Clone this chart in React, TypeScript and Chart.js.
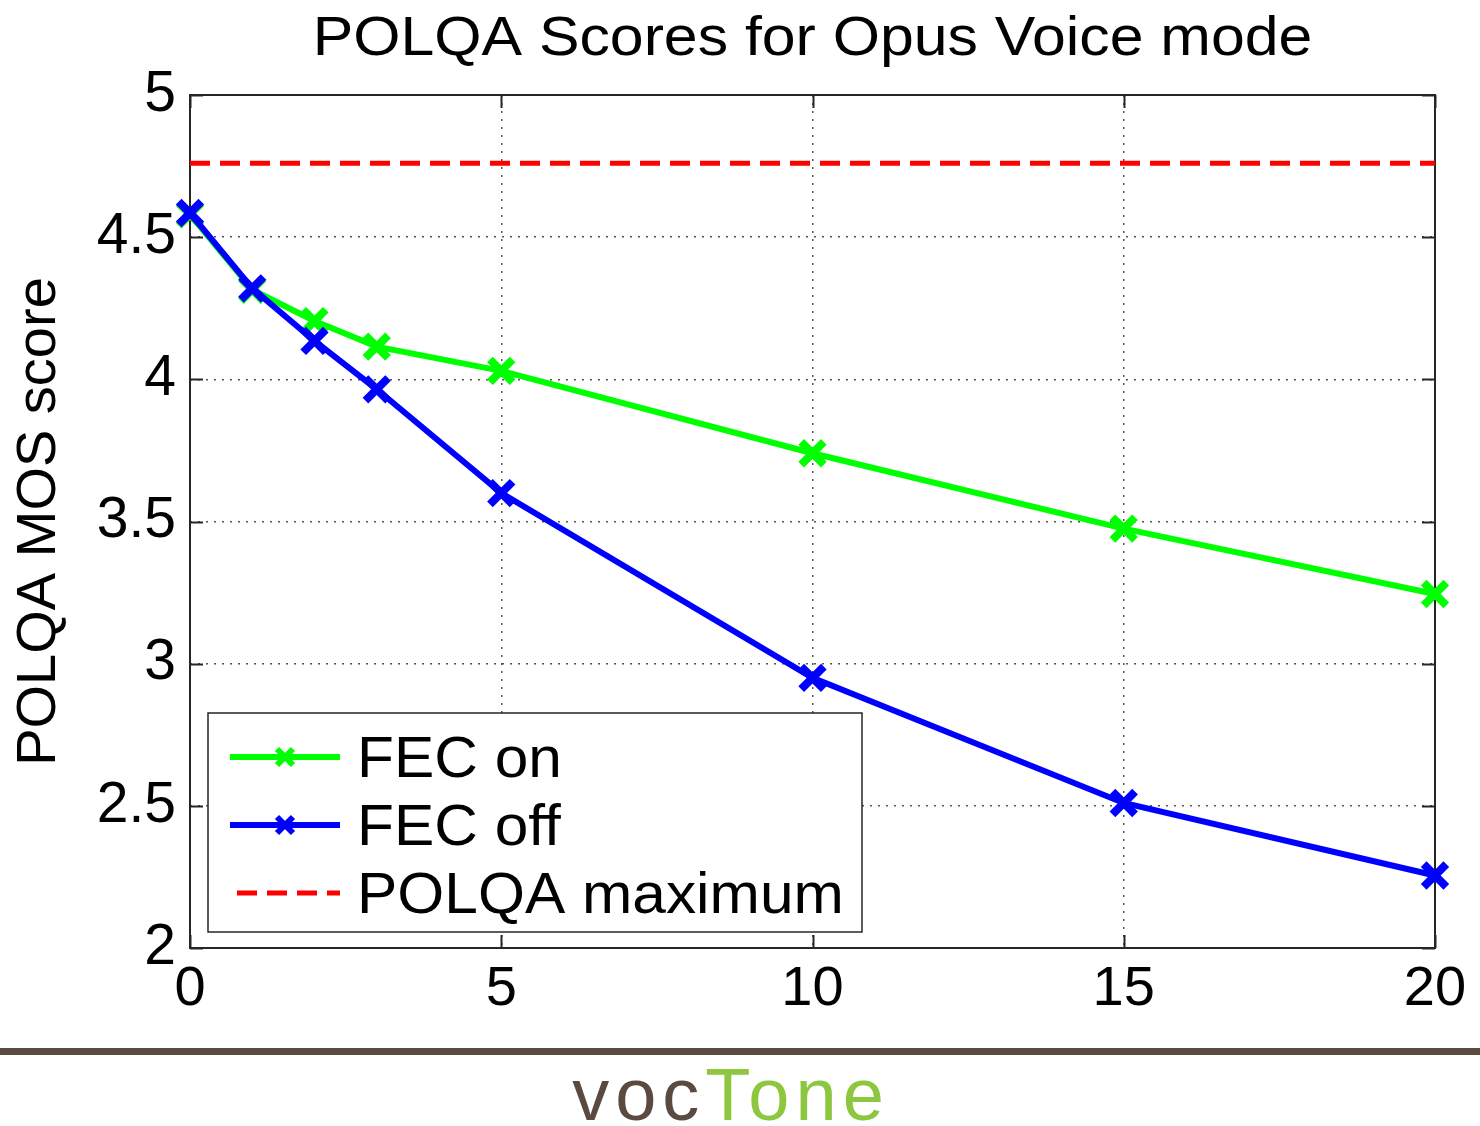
import React, { useEffect, useRef } from "react";
import { Chart, registerables } from "chart.js";

Chart.register(...registerables);

// ---- data ----
const lossPercent = [0, 1, 2, 3, 5, 10, 15, 20];
const fecOnScores = [4.58, 4.315, 4.205, 4.115, 4.03, 3.74, 3.475, 3.245];
const fecOffScores = [4.585, 4.32, 4.135, 3.965, 3.6, 2.95, 2.51, 2.255];
const polqaMaxX = [0, 20];
const polqaMaxY = [4.76, 4.76];
const seriesLabels = ["FEC on", "FEC off", "POLQA maximum"];
const titleText = "POLQA Scores for Opus Voice mode";
const yAxisLabel = "POLQA MOS score";
const brandParts = ["voc", "Tone"];

const FONT = '"Liberation Sans", Arial, Helvetica, sans-serif';
const W = 1480;
const H = 1126;

const decorPlugin = {
  id: "decor",
  beforeDatasetsDraw(chart: any) {
    const { ctx, chartArea: a, scales } = chart;
    ctx.save();
    ctx.strokeStyle = "#262626";
    ctx.lineWidth = 2;
    ctx.setLineDash([]);
    ctx.strokeRect(a.left, a.top, a.right - a.left, a.bottom - a.top);
    const tl = 13;
    ctx.beginPath();
    scales.x.ticks.forEach((t: any) => {
      const px = Math.round(scales.x.getPixelForValue(t.value)) + 0.5;
      ctx.moveTo(px, a.bottom);
      ctx.lineTo(px, a.bottom - tl);
      ctx.moveTo(px, a.top);
      ctx.lineTo(px, a.top + tl);
    });
    scales.y.ticks.forEach((t: any) => {
      const py = Math.round(scales.y.getPixelForValue(t.value)) + 0.5;
      ctx.moveTo(a.left, py);
      ctx.lineTo(a.left + tl, py);
      ctx.moveTo(a.right, py);
      ctx.lineTo(a.right - tl, py);
    });
    ctx.stroke();
    ctx.restore();
  },
  afterDatasetsDraw(chart: any) {
    const { ctx, chartArea: a } = chart;
    const datasets = chart.data.datasets;
    const bx = a.left + 18;
    const by = a.top + 618;
    const bw = 654;
    const bh = 219;
    ctx.save();
    ctx.fillStyle = "#ffffff";
    ctx.fillRect(bx, by, bw, bh);
    ctx.strokeStyle = "#262626";
    ctx.lineWidth = 1.5;
    ctx.strokeRect(bx, by, bw, bh);
    const fs = 57;
    datasets.forEach((ds: any, i: number) => {
      const rowY = by + 44 + i * 68;
      const x0 = bx + 22;
      const x1 = bx + 132;
      ctx.strokeStyle = ds.borderColor;
      ctx.lineWidth = ds.borderWidth;
      ctx.setLineDash(ds.borderDash || []);
      ctx.beginPath();
      ctx.moveTo(x0 + (ds.borderDash ? 7 : 0), rowY);
      ctx.lineTo(x1, rowY);
      ctx.stroke();
      ctx.setLineDash([]);
      if (ds.pointRadius > 0) {
        const cx = (x0 + x1) / 2;
        const r = 8;
        ctx.lineWidth = 6;
        ctx.beginPath();
        ctx.moveTo(cx - r, rowY - r);
        ctx.lineTo(cx + r, rowY + r);
        ctx.moveTo(cx - r, rowY + r);
        ctx.lineTo(cx + r, rowY - r);
        ctx.stroke();
      }
      ctx.fillStyle = "#000";
      ctx.font = `${fs}px ${FONT}`;
      ctx.textAlign = "left";
      ctx.textBaseline = "alphabetic";
      ctx.save();
      ctx.translate(bx + 149, rowY + 0.358 * fs);
      ctx.scale(1.06, 1);
      ctx.fillText(ds.label, 0, 0);
      ctx.restore();
    });
    ctx.restore();
  },
  afterDraw(chart: any) {
    const { ctx, chartArea: a } = chart;
    ctx.save();
    // title
    ctx.fillStyle = "#000";
    ctx.font = `56px ${FONT}`;
    ctx.textAlign = "center";
    ctx.textBaseline = "alphabetic";
    ctx.save();
    ctx.translate((a.left + a.right) / 2, 55);
    ctx.scale(1.085, 1);
    ctx.fillText(titleText, 0, 0);
    ctx.restore();
    // footer rule
    ctx.fillStyle = "#5a4a40";
    ctx.fillRect(0, 1048, W, 7);
    // brand
    ctx.font = `74px ${FONT}`;
    (ctx as any).letterSpacing = "6px";
    ctx.textAlign = "left";
    const w0 = ctx.measureText(brandParts[0]).width;
    const w1 = ctx.measureText(brandParts[1]).width;
    const start = 731 - (w0 + w1) / 2;
    ctx.fillStyle = "#5a4a40";
    ctx.fillText(brandParts[0], start, 1120);
    ctx.fillStyle = "#8dc63f";
    ctx.fillText(brandParts[1], start + w0, 1120);
    ctx.restore();
  },
};

export default function App() {
  const ref = useRef<HTMLCanvasElement | null>(null);
  useEffect(() => {
    document.body.style.margin = "0";
    const canvas = ref.current;
    if (!canvas) return;
    const mk = (xs: number[], ys: number[]) => xs.map((x, i) => ({ x, y: ys[i] }));
    const chart = new Chart(canvas, {
      type: "line",
      data: {
        datasets: [
          {
            label: seriesLabels[0],
            data: mk(lossPercent, fecOnScores),
            borderColor: "#00ff00",
            backgroundColor: "#00ff00",
            borderWidth: 6,
            pointStyle: "crossRot",
            pointRadius: 16,
            pointBorderWidth: 8,
            pointBorderColor: "#00ff00",
            pointHoverRadius: 16,
            clip: false,
            order: 2,
            tension: 0,
          },
          {
            label: seriesLabels[1],
            data: mk(lossPercent, fecOffScores),
            borderColor: "#0000ff",
            backgroundColor: "#0000ff",
            borderWidth: 6,
            pointStyle: "crossRot",
            pointRadius: 16,
            pointBorderWidth: 8,
            pointBorderColor: "#0000ff",
            pointHoverRadius: 16,
            clip: false,
            order: 1,
            tension: 0,
          },
          {
            label: seriesLabels[2],
            data: mk(polqaMaxX, polqaMaxY),
            borderColor: "#ff0000",
            backgroundColor: "#ff0000",
            borderWidth: 5,
            borderDash: [20, 10],
            pointRadius: 0,
            clip: false,
            order: 3,
          },
        ] as any,
      },
      options: {
        animation: false,
        responsive: false,
        devicePixelRatio: 1,
        layout: { padding: { left: 0, right: 45, top: 95, bottom: 86 } },
        plugins: {
          legend: { display: false },
          title: { display: false },
          tooltip: { enabled: false },
        },
        scales: {
          x: {
            type: "linear",
            min: 0,
            max: 20,
            ticks: {
              stepSize: 5,
              color: "#000",
              font: { family: FONT, size: 56 },
              padding: 8,
              maxRotation: 0,
            },
            grid: { color: "#555", lineWidth: 1.5, drawTicks: false },
            border: { display: false, dash: [2, 6] },
            afterFit: (s: any) => {
              s.height = 92;
            },
          },
          y: {
            type: "linear",
            min: 2,
            max: 5,
            ticks: {
              stepSize: 0.5,
              color: "#000",
              font: { family: FONT, size: 57 },
              padding: 14,
              callback: (v: any) => String(Number(v)),
            },
            grid: { color: "#555", lineWidth: 1.5, drawTicks: false },
            border: { display: false, dash: [2, 6] },
            title: {
              display: true,
              text: yAxisLabel,
              color: "#000",
              font: { family: FONT, size: 56 },
              padding: { top: 6, bottom: 0 },
            },
            afterFit: (s: any) => {
              s.width = 190;
            },
          },
        },
      } as any,
      plugins: [decorPlugin],
    });
    return () => chart.destroy();
  }, []);
  return (
    <div style={{ position: "absolute", left: 0, top: 0, width: W, height: H, background: "#fff" }}>
      <canvas ref={ref} width={W} height={H} style={{ display: "block", width: W, height: H }} />
    </div>
  );
}
